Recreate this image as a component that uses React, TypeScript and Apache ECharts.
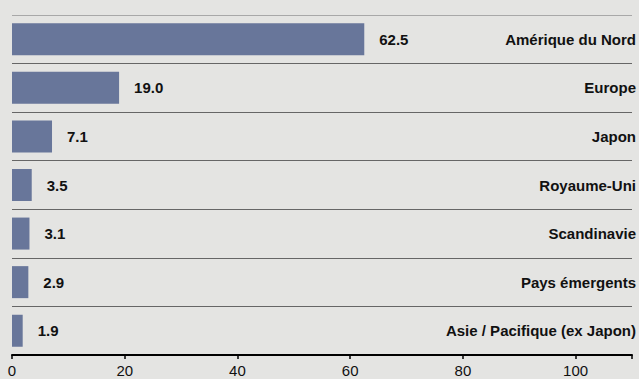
import React, { useEffect, useRef } from "react";
import * as echarts from "echarts";

const categories = [
  "Amérique du Nord",
  "Europe",
  "Japon",
  "Royaume-Uni",
  "Scandinavie",
  "Pays émergents",
  "Asie / Pacifique (ex Japon)",
];
const values = [62.5, 19.0, 7.1, 3.5, 3.1, 2.9, 1.9];
const FONT = "'Liberation Sans', Arial, sans-serif";

export default function App() {
  const ref = useRef<HTMLDivElement>(null);
  useEffect(() => {
    if (!ref.current) return;
    const chart = echarts.init(ref.current, undefined, { renderer: "svg" });
    chart.setOption({
      animation: false,
      backgroundColor: "#e4e4e2",
      textStyle: { fontFamily: FONT },
      grid: { left: 12, right: 6, top: 15, bottom: 24, containLabel: false },
      xAxis: {
        type: "value",
        min: 0,
        max: 110,
        interval: 20,
        axisLine: { show: true, lineStyle: { color: "#000", width: 2 } },
        axisTick: { show: true, length: 4, lineStyle: { color: "#000", width: 1.5 } },
        axisLabel: {
          color: "#111",
          fontSize: 15,
          fontFamily: FONT,
          margin: 8,
          formatter: (v: number) => (v > 100 ? "" : String(v)),
        },
        splitLine: { show: false },
      },
      yAxis: {
        type: "category",
        data: categories,
        inverse: true,
        position: "right",
        axisLine: { show: false },
        axisTick: { show: false },
        axisLabel: {
          inside: true,
          margin: -4,
          color: "#111",
          fontWeight: "bold",
          fontSize: 15,
          fontFamily: FONT,
        },
        splitLine: {
          show: true,
          lineStyle: {
            color: ["#a8a8a8", "#666", "#666", "#666", "#666", "#666", "#666", "#666"],
            width: 1,
          },
        },
      },
      series: [
        {
          type: "bar",
          data: values,
          barWidth: 32,
          itemStyle: { color: "#68769a" },
          label: {
            show: true,
            position: "right",
            distance: 15,
            color: "#111",
            fontWeight: "bold",
            fontSize: 15,
            fontFamily: FONT,
            formatter: (p: any) => Number(p.value).toFixed(1),
          },
        },
      ],
    });
    return () => chart.dispose();
  }, []);
  return <div ref={ref} style={{ width: 639, height: 379, position: "absolute", left: 0, top: 0 }} />;
}
